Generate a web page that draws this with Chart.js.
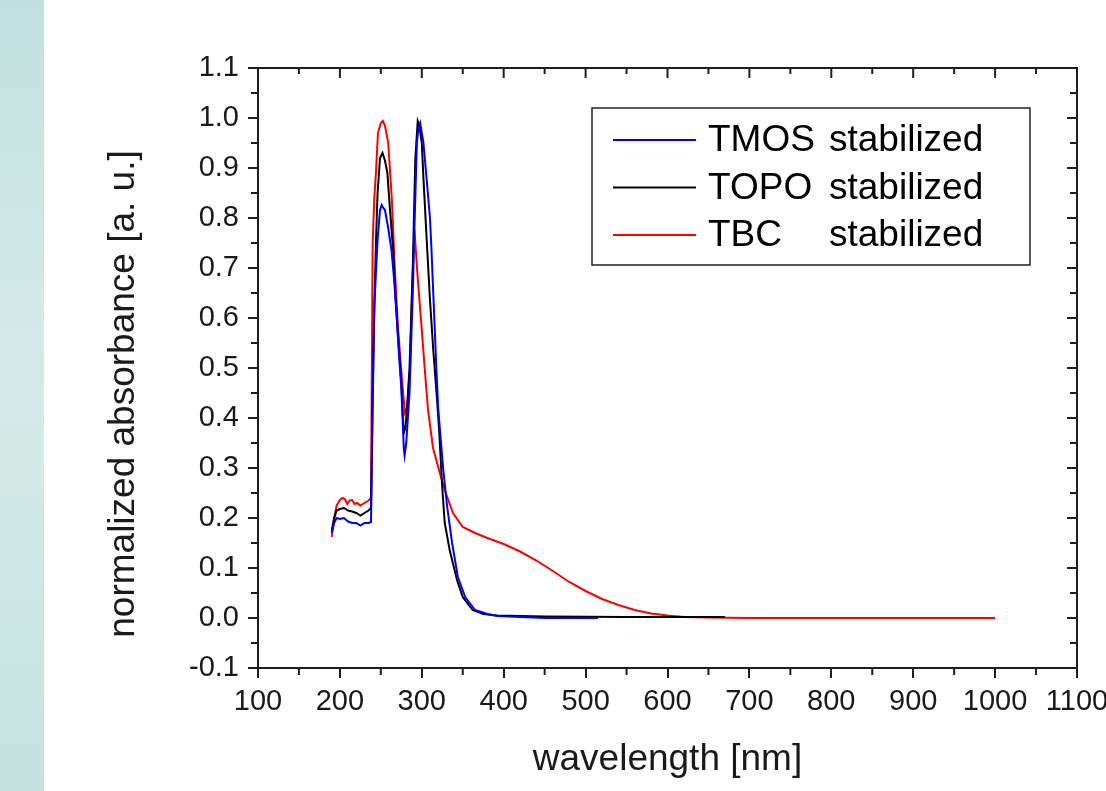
<!DOCTYPE html>
<html>
<head>
<meta charset="utf-8">
<script src="https://cdn.jsdelivr.net/npm/chart.js@4.4.1/dist/chart.umd.min.js"></script>
<style>
  html, body { margin: 0; padding: 0; background: #fff; }
  #wrap { position: relative; width: 1106px; height: 791px; overflow: hidden; }
  #side {
    position: absolute; left: 0; top: 0; width: 44px; height: 791px;
    background: linear-gradient(to bottom, #c2e1de 0%, #d5eae8 45%, #d2e9e6 60%, #c5e2df 100%);
  }
  #chart { position: absolute; left: 0; top: 0; }
</style>
</head>
<body>
<div id="wrap">
  <div id="side"></div>
  <canvas id="chart" width="1106" height="791"></canvas>
</div>
<script>
const labels = ['TMOS stabilized', 'TOPO stabilized', 'TBC    stabilized'];
const colors = ['#0000ff', '#000000', '#ff0000'];
const xTitle = 'wavelength [nm]';
const yTitle = 'normalized absorbance [a. u.]';

// TMOS stabilized (blue)
const tmosWl = [190, 193, 196, 200, 205, 210, 215, 220, 225, 230, 235, 238, 240, 242, 244, 246, 249, 251, 253, 255,
  259, 263, 266, 269, 272, 275, 277, 278, 279, 281, 283, 285, 287, 289, 291, 294, 296, 298, 300, 302,
  306, 310, 312, 314, 316, 318, 320, 323, 326, 331, 337, 344, 353, 365, 380, 392, 420, 450, 515];
const tmosAbs = [0.17, 0.19, 0.2, 0.198, 0.2, 0.193, 0.19, 0.19, 0.185, 0.19, 0.19, 0.192, 0.42, 0.62, 0.69, 0.756, 0.816, 0.826, 0.82, 0.816,
  0.78, 0.736, 0.68, 0.61, 0.53, 0.46, 0.38, 0.34, 0.325, 0.35, 0.4, 0.45, 0.55, 0.65, 0.78, 0.95, 0.98, 0.99, 0.97, 0.95,
  0.876, 0.8, 0.73, 0.65, 0.57, 0.49, 0.42, 0.36, 0.3, 0.222, 0.15, 0.082, 0.042, 0.016, 0.008, 0.004, 0.002, 0.0, 0.0];

// TOPO stabilized (black)
const topoWl = [190, 193, 196, 200, 205, 210, 215, 220, 225, 230, 235, 238, 240, 242, 244, 246, 249, 252, 255, 258,
  261, 265, 268, 272, 275, 277, 278, 280, 282, 285, 289, 292, 295, 297, 300, 302, 306, 310, 314, 318,
  321, 323, 325, 328, 334, 343, 350, 362, 375, 392, 450, 550, 670];
const topoAbs = [0.175, 0.2, 0.215, 0.218, 0.22, 0.215, 0.213, 0.21, 0.205, 0.21, 0.215, 0.22, 0.45, 0.62, 0.75, 0.85, 0.92, 0.93, 0.915, 0.89,
  0.82, 0.736, 0.64, 0.54, 0.47, 0.4, 0.37, 0.38, 0.42, 0.5, 0.7, 0.916, 0.994, 0.985, 0.95, 0.88, 0.756, 0.636, 0.536, 0.45,
  0.38, 0.32, 0.26, 0.19, 0.136, 0.076, 0.042, 0.016, 0.008, 0.005, 0.003, 0.002, 0.002];

// TBC stabilized (red)
const tbcWl = [190, 193, 196, 200, 203, 206, 209, 212, 215, 218, 221, 225, 230, 235, 238, 240, 242, 244, 246.5, 250,
  252.5, 255, 259, 263.5, 267, 271, 275.8, 279.5, 282, 285.6, 288, 290, 291.7, 295, 300, 304, 307.6, 313.7, 322, 328,
  338, 350, 365, 380, 400, 420, 440, 460, 480, 500, 520, 540, 560, 580, 600, 620, 650, 700, 1000];
const tbcAbs = [0.162, 0.2, 0.225, 0.236, 0.24, 0.238, 0.228, 0.235, 0.236, 0.228, 0.23, 0.225, 0.23, 0.235, 0.24, 0.75, 0.84, 0.89, 0.97, 0.99,
  0.994, 0.985, 0.95, 0.836, 0.7, 0.58, 0.476, 0.41, 0.42, 0.5, 0.65, 0.74, 0.76, 0.68, 0.576, 0.49, 0.416, 0.34, 0.29, 0.256,
  0.21, 0.182, 0.17, 0.16, 0.148, 0.133, 0.115, 0.094, 0.072, 0.054, 0.038, 0.026, 0.016, 0.009, 0.005, 0.002, 0.001, 0.0, 0.0];

const AXIS = '#1e1e1e';
const TEXT = '#1a1a1a';
const FONT = "'Liberation Sans', Arial, sans-serif";

const zip = (xs, ys) => xs.map((x, i) => ({ x, y: ys[i] }));
const series = [zip(tmosWl, tmosAbs), zip(topoWl, topoAbs), zip(tbcWl, tbcAbs)];

// frame, minor ticks, y title and boxed legend
const framePlugin = {
  id: 'frame',
  afterDraw(chart) {
    const { ctx, chartArea: a, scales: { x, y } } = chart;
    const xMajor = x.ticks.map((t) => t.value);
    const yMajor = y.ticks.map((t) => t.value);
    const xMinor = xMajor.slice(1).map((v, i) => (v + xMajor[i]) / 2);
    const yMinor = yMajor.slice(1).map((v, i) => (v + yMajor[i]) / 2);

    ctx.save();
    ctx.strokeStyle = AXIS;
    ctx.lineWidth = 2;
    ctx.beginPath();
    ctx.moveTo(a.left, a.top);
    ctx.lineTo(a.right, a.top);
    ctx.lineTo(a.right, a.bottom);
    xMajor.forEach((v) => {
      const px = x.getPixelForValue(v);
      ctx.moveTo(px, a.top); ctx.lineTo(px, a.top + 10);
    });
    xMinor.forEach((v) => {
      const px = x.getPixelForValue(v);
      ctx.moveTo(px, a.top); ctx.lineTo(px, a.top + 6);
      ctx.moveTo(px, a.bottom); ctx.lineTo(px, a.bottom + 7);
    });
    yMajor.forEach((v) => {
      const py = y.getPixelForValue(v);
      ctx.moveTo(a.right, py); ctx.lineTo(a.right - 10, py);
    });
    yMinor.forEach((v) => {
      const py = y.getPixelForValue(v);
      ctx.moveTo(a.right, py); ctx.lineTo(a.right - 7, py);
      ctx.moveTo(a.left, py); ctx.lineTo(a.left - 7, py);
    });
    ctx.stroke();

    // y axis title
    ctx.save();
    ctx.translate(124, 394);
    ctx.rotate(-Math.PI / 2);
    ctx.font = '37px ' + FONT;
    ctx.fillStyle = TEXT;
    ctx.textAlign = 'center';
    ctx.textBaseline = 'middle';
    ctx.fillText(yTitle, 0, 0);
    ctx.restore();

    // legend box
    ctx.fillStyle = '#fff';
    ctx.fillRect(592, 108, 438, 157);
    ctx.lineWidth = 1.5;
    ctx.strokeStyle = '#222';
    ctx.strokeRect(592, 108, 438, 157);
    ctx.font = '37px ' + FONT;
    ctx.textBaseline = 'middle';
    ctx.textAlign = 'left';
    chart.data.datasets.forEach((ds, i) => {
      const ly = 140 + i * 47.5;
      ctx.strokeStyle = ds.borderColor;
      ctx.lineWidth = 2;
      ctx.beginPath();
      ctx.moveTo(613, ly);
      ctx.lineTo(696, ly);
      ctx.stroke();
      const parts = ds.label.split(/\s+/);
      ctx.fillStyle = '#000';
      ctx.fillText(parts[0], 708, ly + 1);
      ctx.fillText(parts.slice(1).join(' '), 829, ly + 1);
    });
    ctx.restore();
  },
};

new Chart(document.getElementById('chart'), {
  type: 'line',
  data: {
    datasets: series.map((data, i) => ({
      label: labels[i],
      data,
      borderColor: colors[i],
      backgroundColor: colors[i],
      borderWidth: 2,
      pointRadius: 0,
      tension: 0,
      fill: false,
    })),
  },
  options: {
    responsive: false,
    animation: false,
    layout: { padding: { top: 68, right: 29, left: 0, bottom: 0 } },
    plugins: { legend: { display: false }, tooltip: { enabled: false } },
    font: { family: FONT },
    scales: {
      x: {
        type: 'linear',
        min: 100,
        max: 1100,
        ticks: {
          stepSize: 100,
          font: { size: 29, family: FONT },
          color: TEXT,
          padding: 7,
          maxRotation: 0,
          autoSkip: false,
          callback: (v) => String(v),
        },
        grid: { drawOnChartArea: false, tickLength: 10, lineWidth: 2, color: AXIS },
        border: { display: true, color: AXIS, width: 2 },
        title: { display: true, text: xTitle, font: { size: 37, family: FONT }, color: TEXT, padding: { top: 0, bottom: 9 } },
        afterFit(scale) {
          scale.height = 123;
          scale.paddingLeft = 0;
          scale.paddingRight = 0;
        },
      },
      y: {
        type: 'linear',
        min: -0.1,
        max: 1.1,
        ticks: {
          stepSize: 0.1,
          font: { size: 29, family: FONT },
          color: TEXT,
          padding: 9,
          callback: (v) => (Math.abs(v) < 1e-9 ? 0 : v).toFixed(1),
        },
        grid: { drawOnChartArea: false, tickLength: 10, lineWidth: 2, color: AXIS },
        border: { display: true, color: AXIS, width: 2 },
        afterFit(scale) {
          scale.width = 258;
          scale.paddingTop = 0;
          scale.paddingBottom = 0;
        },
      },
    },
  },
  plugins: [framePlugin],
});
</script>
</body>
</html>
